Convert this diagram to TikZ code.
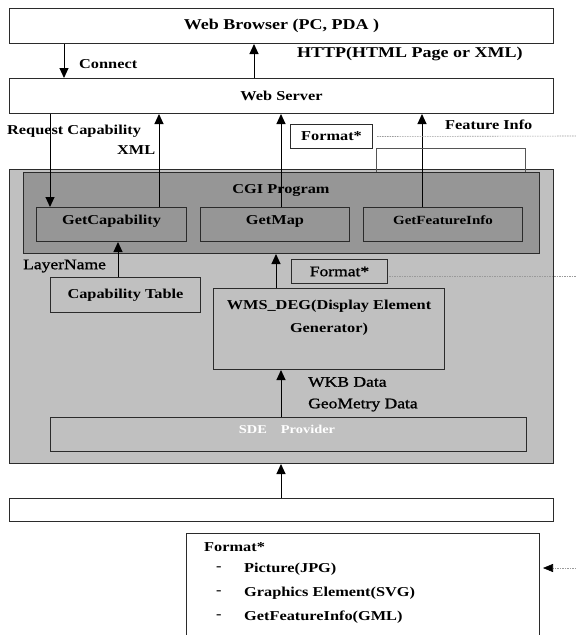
\documentclass[tikz,border=0pt]{standalone}
\usepackage{fontspec}
\setmainfont{Liberation Serif}[FakeStretch=1.2]
\newfontfamily\medfont{Liberation Serif}[FakeStretch=1.2, FakeBold=1.2]
\usetikzlibrary{arrows.meta}
\definecolor{panel}{HTML}{C0C0C0}
\definecolor{cgifill}{HTML}{969696}
\definecolor{edge}{HTML}{2B2B2B}
\definecolor{guide}{HTML}{9A9A9A}
\newcommand{\fnt}[1]{\fontsize{#1}{#1}\selectfont}
\begin{document}
\begin{tikzpicture}[x=1pt,y=-1pt,
  box/.style={draw=edge, line width=1pt, inner sep=0pt, anchor=north west,
    font=\bfseries\fnt{13.6}},
  lowtext/.style={text height=9pt, text depth=9pt},
  lbl/.style={inner sep=0pt, anchor=west, font=\bfseries\fnt{13.6}},
  plain/.style={inner sep=0pt, anchor=west, font=\medfont\fnt{14.6}},
  arr/.style={draw=black, line width=1pt, -{Triangle[width=9pt,length=10pt]}},
  bracketline/.style={draw=edge!80, line width=1pt},
  guideline/.style={draw=guide, line width=0.6pt, dash pattern=on 1.5pt off 1pt}]
\useasboundingbox (0,0) rectangle (576,635);
\clip (0,0) rectangle (576,635);
\fill[white] (0,0) rectangle (576,635);

% client and server
\node[box, minimum width=544, minimum height=35, font=\bfseries\fnt{15}] (wb) at (9,8) {Web Browser (PC, PDA )};
\node[box, minimum width=544, minimum height=35] (ws) at (9,78) {Web Server};

% WMS server panel
\node[box, fill=panel, minimum width=544, minimum height=294] (outer) at (9,169) {};
\node[box, fill=cgifill, minimum width=516, minimum height=81] (cgi) at (23,172) {};
\node[lbl, anchor=center] (cgit) at (281,190) {CGI Program};
\node[box, lowtext, fill=cgifill, minimum width=150, minimum height=34] (gc) at (36,207) {GetCapability};
\node[box, lowtext, fill=cgifill, minimum width=149, minimum height=34] (gm) at (200,207) {GetMap};
\node[box, lowtext, fill=cgifill, minimum width=159, minimum height=34, font=\bfseries\fnt{12.5}] (gf) at (363,207) {GetFeatureInfo};

\node[plain] (layer) at (23,266) {LayerName};
\node[box, fill=panel, minimum width=150, minimum height=35] (ct) at (50,277) {Capability Table};
\node[box, fill=panel, minimum width=96, minimum height=24, font=\medfont\fnt{14.6}] (fmtb) at (291,259) {Format*};
\node[box, fill=panel, minimum width=231, minimum height=81] (wms) at (213,288) {};
\node[lbl, anchor=center] (wmsa) at (329,306) {WMS\_DEG(Display Element};
\node[lbl, anchor=center] (wmsb) at (329,329) {Generator)};
\node[plain] (wkb) at (308,382) {WKB Data};
\node[plain] (geo) at (308,405) {GeoMetry Data};
\node[box, fill=panel, minimum width=476, minimum height=34] (sde) at (50,417) {};
\node[lbl, anchor=center, text=white, font=\bfseries\fnt{12}] (sdet) at (287,429) {SDE\hspace{14pt}Provider};

% data store
\node[box, fill=white, minimum width=544, minimum height=23] (store) at (9,498) {};

% format list
\node[box, fill=white, minimum width=353, minimum height=120] (fl) at (186,533) {};
\node[lbl] (flh) at (204,547) {Format*};
\node[lbl] (fld1) at (216,569) {-};
\node[lbl] (fli1) at (244,569) {Picture(JPG)};
\node[lbl] (fld2) at (216,593) {-};
\node[lbl] (fli2) at (244,593) {Graphics Element(SVG)};
\node[lbl] (fld3) at (216,617) {-};
\node[lbl] (fli3) at (244,617) {GetFeatureInfo(GML)};

% labels in the upper part
\node[lbl] (conn) at (79,64) {Connect};
\node[lbl, font=\bfseries\fnt{15}] (http) at (297,54) {HTTP(HTML Page or XML)};
\node[lbl] (reqc) at (7,131) {Request Capability};
\node[lbl] (xml) at (117,150) {XML};
\node[lbl] (finfo) at (445,125) {Feature Info};
\node[box, fill=white, minimum width=82, minimum height=24] (fmta) at (290,124) {Format*};

% connector columns
\coordinate (xconn) at (64,0);
\coordinate (xhttp) at (254,0);
\coordinate (xreq) at (50,0);
\coordinate (xxml) at (159,0);
\coordinate (xmap) at (281,0);
\coordinate (xfeat) at (422,0);
\coordinate (xct) at (118,0);
\coordinate (xwms) at (276,0);
\coordinate (xsde) at (281,0);
\coordinate (brl) at (376,148);
\coordinate (brr) at (525,148);

\draw[arr] (wb.south -| xconn) -- (ws.north -| xconn);
\draw[arr] (ws.north -| xhttp) -- (wb.south -| xhttp);
\draw[arr] (ws.south -| xreq) -- (gc.north -| xreq);
\draw[arr] (gc.north -| xxml) -- (ws.south -| xxml);
\draw[arr] (gm.north -| xmap) -- (ws.south -| xmap);
\draw[arr] (gf.north -| xfeat) -- (ws.south -| xfeat);
\draw[arr] (ct.north -| xct) -- (gc.south -| xct);
\draw[arr] (wms.north -| xwms) -- (cgi.south -| xwms);
\draw[arr] (sde.north -| xsde) -- (wms.south -| xsde);
\draw[arr] (store.north -| xsde) -- (outer.south -| xsde);

% bracket over the CGI program
\draw[bracketline] (cgi.north -| brl) -- (brl) -- (brr) -- (cgi.north -| brr);

% dotted leaders to the format list
\coordinate (ga) at (576,136);
\coordinate (gb0) at (389,276);
\coordinate (gb) at (576,276);
\coordinate (gc0) at (576,568);
\coordinate (gtip) at (543,568);
\draw[guideline] (fmta.east) ++(4,0) -- (ga);
\draw[guideline] (gb0) -- (gb);
\draw[guideline, -{Triangle[width=8pt,length=10pt,color=black]}] (gc0) -- (gtip);
\end{tikzpicture}
\end{document}
